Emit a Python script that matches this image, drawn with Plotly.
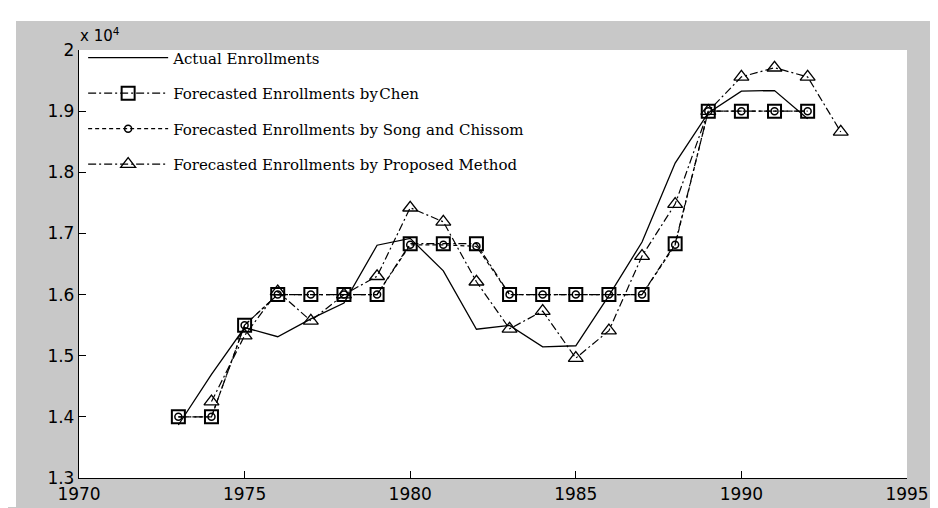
import plotly.graph_objects as go

# ---- data (enrollments) ----
years_actual = list(range(1973, 1993))
actual = [13867, 14696, 15460, 15311, 15603, 15861, 16807, 16919, 16388, 15433,
          15497, 15145, 15163, 15984, 16859, 18150, 18970, 19328, 19337, 18876]

years_chen = list(range(1973, 1993))
chen = [14000, 14000, 15500, 16000, 16000, 16000, 16000, 16833, 16833, 16833,
        16000, 16000, 16000, 16000, 16000, 16833, 19000, 19000, 19000, 19000]

years_song = list(range(1973, 1993))
song = [14000, 14000, 15500, 16000, 16000, 16000, 16000, 16813, 16813, 16789,
        16000, 16000, 16000, 16000, 16000, 16813, 19000, 19000, 19000, 19000]

years_prop = list(range(1974, 1994))
proposed = [14250, 15330, 16050, 15570, 16000, 16300, 17420, 17190, 16210, 15440,
            15730, 14960, 15410, 16630, 17480, 19000, 19560, 19710, 19560, 18660]

x_ticks = [1970, 1975, 1980, 1985, 1990, 1995]
y_ticks = [1.3, 1.4, 1.5, 1.6, 1.7, 1.8, 1.9, 2.0]
y_tick_labels = ["1.3", "1.4", "1.5", "1.6", "1.7", "1.8", "1.9", "2"]
scale = 10000.0

names = ["Actual Enrollments",
         "Forecasted Enrollments by\u200aChen",
         "Forecasted Enrollments by Song and Chissom",
         "Forecasted Enrollments by Proposed Method"]

fig = go.Figure()
fig.add_trace(go.Scatter(x=years_actual, y=[v / scale for v in actual], mode="lines",
                         name=names[0], legendgroup="a",
                         line=dict(color="black", width=1.3)))
fig.add_trace(go.Scatter(x=years_chen, y=[v / scale for v in chen], mode="lines+markers",
                         name=names[1], legendgroup="b",
                         line=dict(color="black", width=1.2, dash="8px,3px,2px,3px"),
                         marker=dict(symbol="square-open", size=13, color="black",
                                     line=dict(width=2, color="black"))))
fig.add_trace(go.Scatter(x=years_song, y=[v / scale for v in song], mode="lines+markers",
                         name=names[2], legendgroup="c",
                         line=dict(color="black", width=1.2, dash="4px,3px"),
                         marker=dict(symbol="circle-open", size=7, color="black",
                                     line=dict(width=1.5, color="black"))))
fig.add_trace(go.Scatter(x=years_prop, y=[v / scale for v in proposed], mode="lines+markers",
                         name=names[3], legendgroup="d",
                         line=dict(color="black", width=1.2, dash="8px,3px,2px,3px"),
                         marker=dict(symbol="triangle-up-open", size=13, color="black",
                                     line=dict(width=1.3, color="black"))))

W, H = 938, 508
L, R, T, B = 71, 899, 42, 483
pw, ph = R - L, B - T

def px_x(p):
    return (p - L) / pw

def px_y(p):
    return (B - p) / ph

# white scan borders (top and left) outside the gray figure area
fig.add_shape(type="rect", xref="paper", yref="paper", layer="below",
              x0=px_x(-5), x1=px_x(W + 5), y0=px_y(12), y1=px_y(-5),
              fillcolor="white", line=dict(width=0))
fig.add_shape(type="rect", xref="paper", yref="paper", layer="below",
              x0=px_x(-5), x1=px_x(8), y0=px_y(H + 5), y1=px_y(-5),
              fillcolor="white", line=dict(width=0))

fig.add_annotation(xref="paper", yref="paper", x=px_x(70), y=px_y(27),
                   text="x 10<sup>4</sup>", showarrow=False, xanchor="left", yanchor="middle",
                   font=dict(family="DejaVu Sans", size=15, color="black"))

fig.update_layout(
    width=W, height=H,
    margin=dict(l=L, r=W - R, t=T, b=H - B, pad=0),
    paper_bgcolor="#c8c8c8", plot_bgcolor="white",
    showlegend=True,
    legend=dict(x=0.005, y=1.02, xanchor="left", yanchor="top",
                bgcolor="rgba(0,0,0,0)", borderwidth=0,
                font=dict(family="DejaVu Serif", size=15, color="black"),
                tracegroupgap=13, itemwidth=80),
    xaxis=dict(range=[1970, 1995], tickvals=x_ticks, ticks="inside", ticklen=7,
               tickcolor="black", showline=True, linecolor="black", linewidth=1.3,
               showgrid=False, zeroline=False,
               tickfont=dict(family="DejaVu Sans", size=17, color="black")),
    yaxis=dict(range=[1.3, 2.0], tickvals=y_ticks, ticktext=y_tick_labels,
               ticks="inside", ticklen=7, tickcolor="black", showline=True,
               linecolor="black", linewidth=1.3, showgrid=False, zeroline=False,
               tickfont=dict(family="DejaVu Sans", size=17, color="black")),
)

fig.write_html("out.html")
